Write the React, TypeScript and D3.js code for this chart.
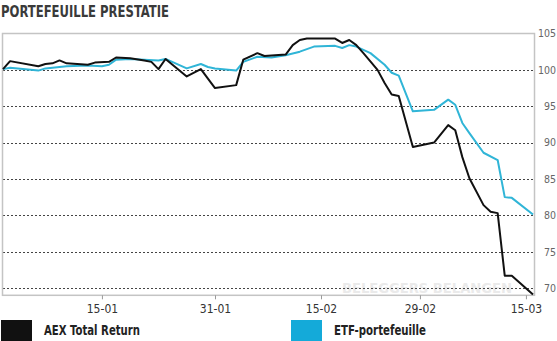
import React, { useRef, useEffect } from 'react';
import * as d3 from 'd3';

const aexDates = ['2016-01-01', '2016-01-02', '2016-01-06', '2016-01-07', '2016-01-08', '2016-01-09', '2016-01-10', '2016-01-13', '2016-01-14', '2016-01-16', '2016-01-17', '2016-01-19', '2016-01-21', '2016-01-22', '2016-01-23', '2016-01-24', '2016-01-27', '2016-01-29', '2016-01-31', '2016-02-03', '2016-02-04', '2016-02-06', '2016-02-07', '2016-02-10', '2016-02-11', '2016-02-12', '2016-02-13', '2016-02-17', '2016-02-18', '2016-02-19', '2016-02-20', '2016-02-21', '2016-02-23', '2016-02-24', '2016-02-25', '2016-02-26', '2016-02-28', '2016-03-02', '2016-03-04', '2016-03-05', '2016-03-06', '2016-03-07', '2016-03-09', '2016-03-10', '2016-03-11', '2016-03-12', '2016-03-13', '2016-03-16'];
const aexValues = [100.1, 101.2, 100.5, 100.8, 100.9, 101.3, 100.9, 100.7, 101.0, 101.1, 101.7, 101.6, 101.3, 101.1, 100.1, 101.5, 99.1, 100.1, 97.5, 97.9, 101.4, 102.3, 101.9, 102.1, 103.4, 104.1, 104.3, 104.3, 103.7, 104.1, 103.4, 102.3, 100.0, 98.2, 96.6, 96.4, 89.4, 90.0, 92.4, 91.7, 88.0, 85.1, 81.4, 80.5, 80.3, 71.7, 71.7, 69.1];

const etfDates = ['2016-01-01', '2016-01-02', '2016-01-06', '2016-01-07', '2016-01-10', '2016-01-13', '2016-01-15', '2016-01-16', '2016-01-17', '2016-01-19', '2016-01-21', '2016-01-23', '2016-01-24', '2016-01-27', '2016-01-29', '2016-01-30', '2016-01-31', '2016-02-03', '2016-02-04', '2016-02-06', '2016-02-08', '2016-02-10', '2016-02-12', '2016-02-14', '2016-02-17', '2016-02-18', '2016-02-19', '2016-02-20', '2016-02-22', '2016-02-24', '2016-02-25', '2016-02-26', '2016-02-28', '2016-03-02', '2016-03-04', '2016-03-05', '2016-03-06', '2016-03-07', '2016-03-09', '2016-03-11', '2016-03-12', '2016-03-13', '2016-03-16'];
const etfValues = [100.1, 100.3, 99.9, 100.2, 100.5, 100.6, 100.5, 100.7, 101.4, 101.5, 101.4, 101.3, 101.5, 100.2, 100.8, 100.4, 100.2, 99.9, 101.1, 101.8, 101.7, 102.0, 102.5, 103.2, 103.3, 103.0, 103.4, 103.2, 102.3, 100.7, 99.6, 99.2, 94.3, 94.5, 95.9, 95.2, 92.7, 91.3, 88.6, 87.6, 82.5, 82.4, 80.1];

const xTickDates = ['2016-01-15', '2016-01-31', '2016-02-15', '2016-02-29', '2016-03-15'];
const yTickValues = [70, 75, 80, 85, 90, 95, 100, 105];

const seriesNames = ['AEX Total Return', 'ETF-portefeuille'];
const seriesColors = ['#111111', '#30b5d7'];
const legendColors = ['#111111', '#14aad9'];

const FONT = '"Liberation Sans Narrow", "DejaVu Sans Condensed", "Liberation Sans", sans-serif';

const App = () => {
  const svgRef = useRef<SVGSVGElement>(null);

  useEffect(() => {
    const width = 557;
    const height = 341;
    const left = 3;
    const right = 534.5;
    const top = 33.5;
    const bottom = 295.3;

    const parse = d3.timeParse('%Y-%m-%d');
    const aex = aexDates.map((d, i) => ({ date: parse(d) as Date, value: aexValues[i] }));
    const etf = etfDates.map((d, i) => ({ date: parse(d) as Date, value: etfValues[i] }));

    const x = d3.scaleTime()
      .domain([parse('2016-01-01') as Date, parse('2016-03-16') as Date])
      .range([left, right - 1.5]);

    const y = d3.scaleLinear()
      .domain([69, 105])
      .range([bottom, top]);

    const svg = d3.select(svgRef.current)
      .attr('width', width)
      .attr('height', height)
      .attr('viewBox', [0, 0, width, height].join(' '));

    svg.selectAll('*').remove();

    svg.append('rect')
      .attr('width', width)
      .attr('height', height)
      .attr('fill', '#fff');

    // title
    svg.append('text')
      .attr('x', 1)
      .attr('y', 17)
      .attr('font-family', FONT)
      .attr('font-weight', 'bold')
      .attr('font-size', 16)
      .attr('fill', '#3a3a3a')
      .attr('textLength', 168)
      .attr('lengthAdjust', 'spacingAndGlyphs')
      .text('PORTEFEUILLE PRESTATIE');

    // watermark
    svg.append('text')
      .attr('x', 512)
      .attr('y', 293)
      .attr('text-anchor', 'end')
      .attr('font-family', FONT)
      .attr('font-weight', 'bold')
      .attr('font-size', 14)
      .attr('fill', '#eaeaea')
      .attr('textLength', 170)
      .attr('lengthAdjust', 'spacingAndGlyphs')
      .text('BELEGGERS BELANGEN');

    // dotted grid
    svg.append('g')
      .selectAll('line')
      .data(yTickValues.filter(v => v < 105))
      .join('line')
      .attr('x1', left)
      .attr('x2', right)
      .attr('y1', d => Math.round(y(d)) + 0.5)
      .attr('y2', d => Math.round(y(d)) + 0.5)
      .attr('stroke', '#444')
      .attr('stroke-width', 1)
      .attr('stroke-dasharray', '2,2');

    // frame
    svg.append('rect')
      .attr('x', 2.5)
      .attr('y', top)
      .attr('width', right - 2.5)
      .attr('height', bottom - top)
      .attr('fill', 'none')
      .attr('stroke', '#c4c4c4')
      .attr('stroke-width', 1.5);

    // x axis
    const xAxis = svg.append('g')
      .attr('transform', `translate(0,${bottom})`)
      .call(d3.axisBottom(x)
        .tickValues(xTickDates.map(d => parse(d) as Date))
        .tickFormat(d3.timeFormat('%d-%m') as any)
        .tickSize(4)
        .tickPadding(5));
    xAxis.select('.domain').remove();
    xAxis.selectAll('line').attr('stroke', '#999');
    xAxis.selectAll('text')
      .attr('font-family', FONT)
      .attr('font-size', 12)
      .attr('fill', '#333');

    // y axis labels
    const yAxis = svg.append('g')
      .attr('transform', `translate(${width - 1},0)`)
      .call(d3.axisRight(y).tickValues(yTickValues).tickSize(0).tickPadding(0));
    yAxis.select('.domain').remove();
    yAxis.selectAll('text')
      .attr('text-anchor', 'end')
      .attr('font-family', FONT)
      .attr('font-size', 10.5)
      .attr('fill', '#666');

    // lines
    const line = d3.line<{ date: Date; value: number }>()
      .x(d => x(d.date))
      .y(d => y(d.value));

    [etf, aex].forEach((series, i) => {
      svg.append('path')
        .datum(series)
        .attr('fill', 'none')
        .attr('stroke', i === 0 ? seriesColors[1] : seriesColors[0])
        .attr('stroke-width', 2)
        .attr('stroke-linejoin', 'round')
        .attr('d', line);
    });

    // legend
    const legend = svg.append('g')
      .selectAll('g')
      .data(seriesNames)
      .join('g')
      .attr('transform', (d, i) => `translate(${i === 0 ? 1 : 291},320)`);

    legend.append('rect')
      .attr('width', 31)
      .attr('height', 21)
      .attr('fill', (d, i) => legendColors[i]);

    legend.append('text')
      .attr('x', 43)
      .attr('y', 15)
      .attr('font-family', FONT)
      .attr('font-weight', 'bold')
      .attr('font-size', 14.5)
      .attr('fill', '#222')
      .attr('textLength', (d, i) => (i === 0 ? 96 : 92))
      .attr('lengthAdjust', 'spacingAndGlyphs')
      .text(d => d);
  }, []);

  return (
    <div style={{ position: 'absolute', left: 0, top: 0 }}>
      <svg ref={svgRef} style={{ display: 'block' }}></svg>
    </div>
  );
};

export default App;
